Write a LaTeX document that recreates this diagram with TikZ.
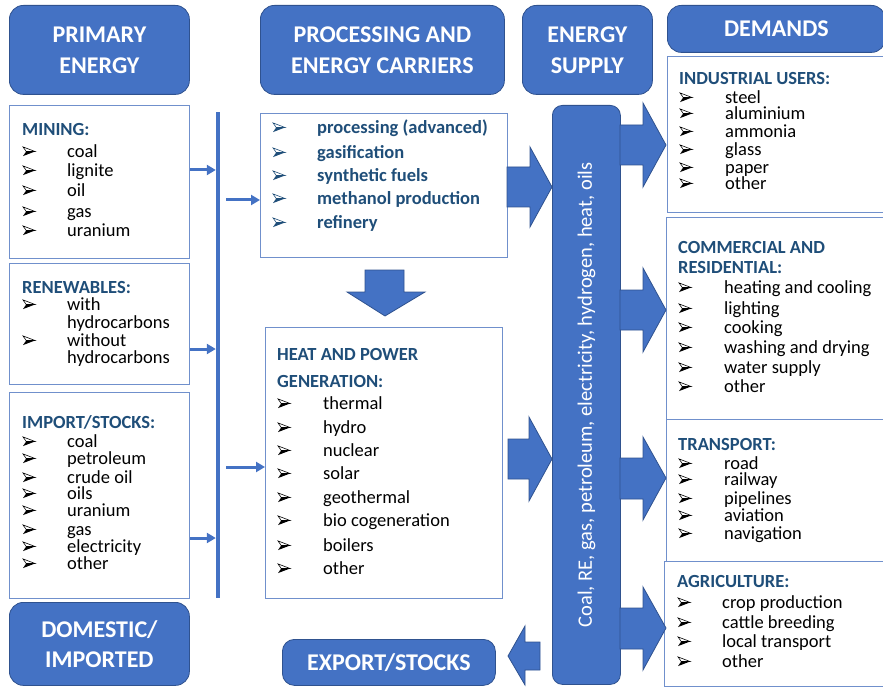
\documentclass[tikz,border=0pt]{standalone}
\usepackage{fontspec}
\setmainfont{Carlito}
\usetikzlibrary{arrows.meta}
\definecolor{obl}{HTML}{4472C4}
\definecolor{obd}{HTML}{2F528F}
\definecolor{ttl}{HTML}{1F4E79}
\definecolor{bdr}{RGB}{112,144,204}
\tikzset{
  bulpic/.pic={
    \fill[pic actions, fill=white, draw=\tikzpicturebulcol, line width=0.6, line join=miter] (0,-4.6) -- (12,0) -- (3.2,0) -- cycle;
    \fill[\tikzpicturebulcol] (3.2,0) -- (12,0) -- (0,4.6) -- cycle;
  }}
\newcommand\tikzpicturebulcol{black}
\newcommand\mklist[5]{%
  \foreach \yy/\txt [count=\i] in {#5} {%
    \pic (#1b\i) at (#2,\yy+0.5) {bulpic};
    \node[#4] (#1t\i) at (#3,\yy) {\txt};}}
\begin{document}
\begin{tikzpicture}[x=1pt,y=-1pt,
  hdr/.style={draw=obd, line width=0.8, fill=obl, rounded corners=14, text=white,
    font=\fontsize{24}{31}\selectfont\bfseries, align=center, inner sep=0},
  box/.style={draw=bdr, line width=1.3, fill=white, inner sep=0},
  ttlt/.style={anchor=mid west, inner sep=0, yshift=-4pt, text=ttl, font=\fontsize{18.5}{22}\selectfont\bfseries},
  itm/.style={anchor=mid west, inner sep=0, yshift=-4pt, font=\fontsize{18.5}{22}\selectfont},
  itmb/.style={anchor=mid west, inner sep=0, yshift=-4pt, text=ttl, font=\fontsize{18.5}{22}\selectfont\bfseries},
  sarr/.style={draw=obl, line width=3, -{Triangle[length=9pt,width=10pt]}},
  barr/.style={draw=obd, line width=0.8, fill=obl, line join=miter}]
\useasboundingbox (0,0) rectangle (883,687);

% headers
\node[hdr, minimum width=180, minimum height=89, anchor=north west] (hpe) at (9,5) {PRIMARY\\ENERGY};
\node[hdr, minimum width=244, minimum height=89, anchor=north west] (hpc) at (260,5) {PROCESSING AND\\ENERGY CARRIERS};
\node[hdr, minimum width=130, minimum height=89, anchor=north west] (hes) at (522,5) {ENERGY\\SUPPLY};
\node[hdr, minimum width=218, minimum height=47, anchor=north west] (hdm) at (667,5) {DEMANDS};
\node[hdr, minimum width=180, minimum height=83, anchor=north west, font=\fontsize{24}{30}\selectfont\bfseries] (hdi) at (9,602) {DOMESTIC/\\IMPORTED};
\node[hdr, rounded corners=12, minimum width=213, minimum height=46, anchor=north west] (hex) at (282,639) {EXPORT/STOCKS};

% supply bar
\node[hdr, rounded corners=10, minimum width=68, minimum height=579, anchor=north west] (bar) at (552,105) {};
\node[rotate=90, text=white, inner sep=0, font=\fontsize{20.5}{24}\selectfont] (bartxt) at (bar.center) {Coal, RE, gas, petroleum, electricity, hydrogen, heat, oils};

% left boxes
\node[box, minimum width=180, minimum height=153, anchor=north west] (min) at (9,105) {};
\node[box, minimum width=180, minimum height=121, anchor=north west] (ren) at (9,263) {};
\node[box, minimum width=180, minimum height=206, anchor=north west] (imp) at (9,392) {};

% middle boxes
\node[box, minimum width=247, minimum height=144, anchor=north west] (proc) at (260,113) {};
\node[box, minimum width=237, minimum height=271, anchor=north west] (heat) at (265,327) {};

% demand boxes
\node[box, minimum width=218, minimum height=156, anchor=north west] (ind) at (667,56) {};
\node[box, minimum width=219, minimum height=203, anchor=north west] (com) at (666,217) {};
\node[box, minimum width=219, minimum height=142, anchor=north west] (tra) at (666,419) {};
\node[box, minimum width=221, minimum height=125, anchor=north west] (agr) at (664,561) {};

% vertical collector line
\node[fill=obl, minimum width=4, minimum height=486, inner sep=0, anchor=north] (vline) at (218,112) {};
\coordinate (a1) at (0,170);
\coordinate (a2) at (0,349);
\coordinate (a3) at (0,538);
\coordinate (b1) at (0,200);
\coordinate (b2) at (0,467);
\draw[sarr] (min.east |- a1) -- (vline.west |- a1);
\draw[sarr] (ren.east |- a2) -- (vline.west |- a2);
\draw[sarr] (imp.east |- a3) -- (vline.west |- a3);
\draw[sarr, shorten <=6pt] (vline.east |- b1) -- (proc.west |- b1);
\draw[sarr, shorten <=6pt] (vline.east |- b2) -- (heat.west |- b2);

% block arrows
\draw[barr] (507,167) -- (530,167) -- (530,147) -- (552,187) -- (530,227) -- (530,207) -- (507,207) -- cycle;
\draw[barr] (508,439) -- (529,439) -- (529,417) -- (552,459) -- (529,501) -- (529,479) -- (508,479) -- cycle;
\draw[barr] (365,270) -- (404,270) -- (404,292) -- (425,292) -- (385,316) -- (347,292) -- (365,292) -- cycle;
\draw[barr] (620,125) -- (643,125) -- (643,103) -- (666,145) -- (643,187) -- (643,165) -- (620,165) -- cycle;
\draw[barr] (620,290) -- (643,290) -- (643,268) -- (666,310) -- (643,352) -- (643,330) -- (620,330) -- cycle;
\draw[barr] (620,458) -- (643,458) -- (643,437) -- (666,478) -- (643,520) -- (643,499) -- (620,499) -- cycle;
\draw[barr] (620,608) -- (643,608) -- (643,587) -- (666,628) -- (643,670) -- (643,649) -- (620,649) -- cycle;
\draw[barr] (540,642) -- (525,642) -- (525,626) -- (508,656) -- (525,685) -- (525,670) -- (540,670) -- cycle;

% MINING
\node[ttlt] (minh) at (22,129) {MINING:};
\mklist{mi}{23}{67}{itm}{151/coal,170/lignite,190/oil,211/gas,230/uranium}

% RENEWABLES
\node[ttlt] (renh) at (22,287) {RENEWABLES:};
\pic (reb1) at (23,304.5) {bulpic};
\pic (reb2) at (23,340.5) {bulpic};
\node[itm] (ret1) at (67,304) {with};
\node[itm] (ret2) at (67,322) {hydrocarbons};
\node[itm] (ret3) at (67,340) {without};
\node[itm] (ret4) at (67,357) {hydrocarbons};

% IMPORT
\node[ttlt] (imph) at (22,422) {IMPORT/STOCKS:};
\mklist{im}{23}{67}{itm}{441/coal,458/petroleum,477/crude oil,493/oils,510/uranium,529/gas,546/electricity,563/other}

% PROCESSING
\renewcommand\tikzpicturebulcol{ttl}
\mklist{pr}{273}{317}{itmb}{127/processing (advanced),152/gasification,175/synthetic fuels,198/methanol production,222/refinery}
\renewcommand\tikzpicturebulcol{black}

% HEAT AND POWER
\node[ttlt] (heh1) at (277,354) {HEAT AND POWER};
\node[ttlt] (heh2) at (277,381) {GENERATION:};
\mklist{he}{278}{323}{itm}{403/thermal,427/hydro,450/nuclear,473/solar,497/geothermal,520/bio cogeneration,545/boilers,568/other}

% INDUSTRIAL
\node[ttlt] (indh) at (679,78) {INDUSTRIAL USERS:};
\mklist{in}{680}{725}{itm}{97/steel,113/aluminium,131/ammonia,149/glass,167/paper,183/other}

% COMMERCIAL
\node[ttlt] (comh1) at (678,247) {COMMERCIAL AND};
\node[ttlt] (comh2) at (678,267) {RESIDENTIAL:};
\mklist{co}{679}{724}{itm}{287/heating and cooling,308/lighting,327/cooking,347/washing and drying,367/water supply,386/other}

% TRANSPORT
\node[ttlt] (trah) at (678,444) {TRANSPORT:};
\mklist{tr}{679}{724}{itm}{463/road,479/railway,498/pipelines,515/aviation,533/navigation}

% AGRICULTURE
\node[ttlt] (agrh) at (677,581) {AGRICULTURE:};
\mklist{ag}{678}{722}{itm}{602/crop production,622/cattle breeding,641/local transport,661/other}
\end{tikzpicture}
\end{document}
